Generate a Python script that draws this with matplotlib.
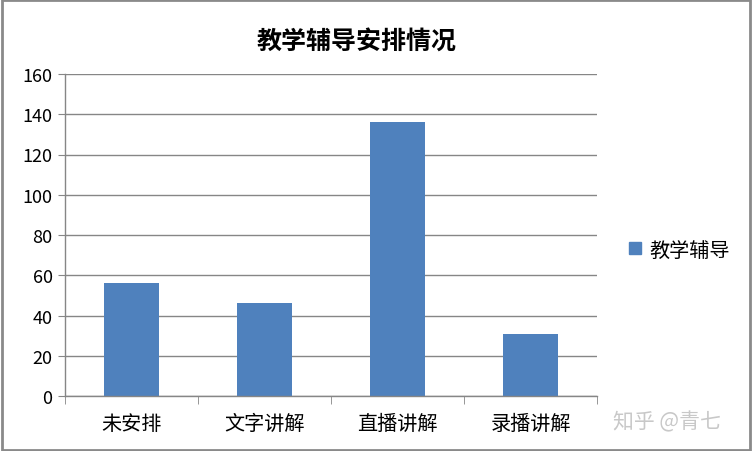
import matplotlib
matplotlib.use("Agg")
import matplotlib.pyplot as plt
from matplotlib.patches import Rectangle
from matplotlib.lines import Line2D

plt.rcParams['font.family'] = ['Noto Sans CJK SC', 'DejaVu Sans']

categories = ["未安排", "文字讲解", "直播讲解", "录播讲解"]
values = [56, 46, 136, 31]
series_name = "教学辅导"
title = "教学辅导安排情况"
yticks = [0, 20, 40, 60, 80, 100, 120, 140, 160]

bar_color = "#4F81BD"
grid_color = "#868686"

fig = plt.figure(figsize=(7.52, 4.52), dpi=100)
fig.patch.set_facecolor("white")
ax = fig.add_axes([65/752, 55/452, 532/752, 322/452])

x = list(range(len(categories)))
ax.bar(x, values, width=0.41, color=bar_color, zorder=3)
ax.set_xlim(-0.5, len(categories) - 0.5)
ax.set_ylim(0, 160)
ax.set_yticks(yticks)
ax.set_yticklabels([str(v) for v in yticks], fontsize=13)
ax.set_xticks(x)
ax.set_xticklabels(categories, fontsize=14.5)
ax.set_xticks([i - 0.5 for i in range(len(categories) + 1)], minor=True)
ax.tick_params(axis='x', which='major', length=0, pad=12)
ax.tick_params(axis='x', which='minor', length=6, color=grid_color, direction='out')
ax.tick_params(axis='y', length=5, color=grid_color, direction='out', pad=4)
ax.grid(axis='y', color=grid_color, linewidth=1, zorder=0)
for s in ['top', 'right']:
    ax.spines[s].set_visible(False)
for s in ['left', 'bottom']:
    ax.spines[s].set_color(grid_color)
    ax.spines[s].set_linewidth(1)
    ax.spines[s].set_zorder(4)

fig.text(357/752, 1 - 42/452, title, fontsize=18, fontweight='bold',
         ha='center', va='center')

handle = Line2D([], [], marker='s', linestyle='none', markersize=8,
                markerfacecolor=bar_color, markeredgecolor=bar_color)
fig.legend([handle], [series_name], loc='center left',
           bbox_to_anchor=(607/752, 1 - 251/452), frameon=False,
           fontsize=14.5, handletextpad=0.2, handlelength=1.0)

fig.text(667/752, 1 - 422/452, "知乎 @青七", fontsize=15, color="#c8c8c8",
         ha='center', va='center')

fig.patches.append(Rectangle((0.002, 0.003), 0.996, 0.994, transform=fig.transFigure,
                             fill=False, edgecolor="#8a8a8a", linewidth=2))

fig.savefig("out.png", dpi=100)
